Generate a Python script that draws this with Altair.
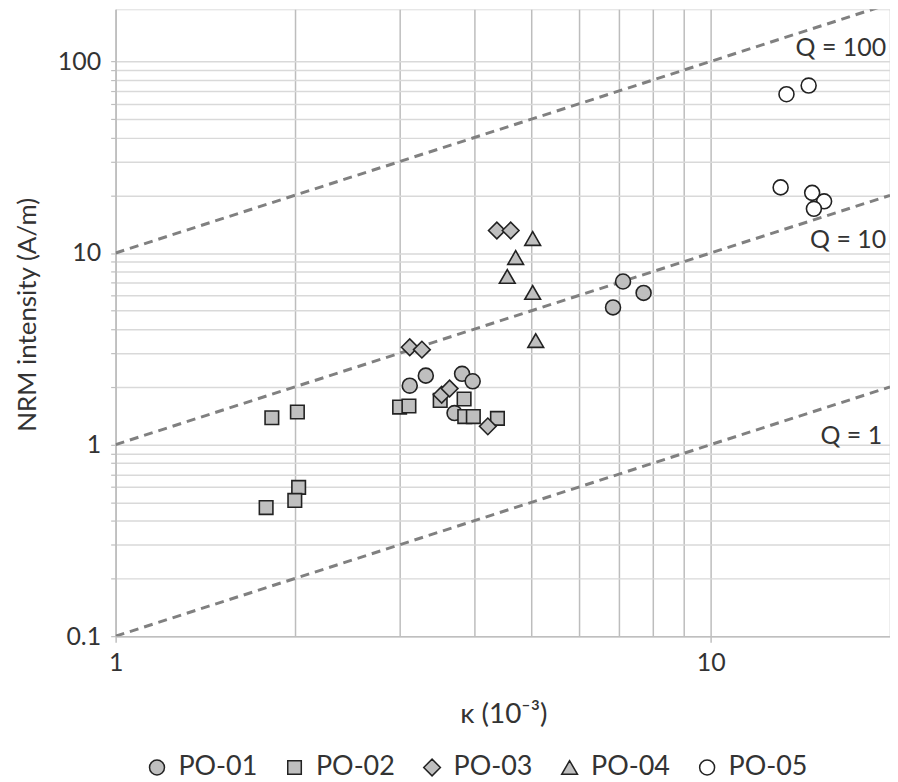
import altair as alt
import pandas as pd

# ---- data ----
series_names = ["PO-01", "PO-02", "PO-03", "PO-04", "PO-05"]

po01_x = [3.12, 3.32, 3.82, 3.98, 3.71, 7.12, 7.71, 6.85]
po01_y = [2.03, 2.29, 2.34, 2.14, 1.46, 7.10, 6.19, 5.20]

po02_x = [1.83, 2.02, 3.00, 3.11, 3.51, 3.85, 3.86, 3.99, 4.38, 2.03, 2.00, 1.79]
po02_y = [1.38, 1.48, 1.57, 1.59, 1.70, 1.73, 1.40, 1.40, 1.37, 0.598, 0.511, 0.469]

po03_x = [3.12, 3.27, 3.53, 3.64, 4.22, 4.37, 4.61]
po03_y = [3.22, 3.13, 1.82, 1.96, 1.245, 13.1, 13.1]

po04_x = [5.02, 4.70, 4.55, 5.02, 5.08]
po04_y = [11.9, 9.47, 7.54, 6.22, 3.49]

po05_x = [13.4, 14.6, 13.1, 14.8, 15.5, 14.9]
po05_y = [67.4, 74.8, 22.0, 20.6, 18.6, 17.0]

q_values = [1, 10, 100]
q_labels = ["Q = 1", "Q = 10", "Q = 100"]
x_range = [1, 20]

x_tick_labels = [1, 10]
y_tick_labels = [0.1, 1, 10, 100]

FONT = "Lato"
TXT = "#333333"
EDGE = "#222222"

# ---- tables ----
xs = [po01_x, po02_x, po03_x, po04_x, po05_x]
ys = [po01_y, po02_y, po03_y, po04_y, po05_y]
rows = []
for name, sx, sy in zip(series_names, xs, ys):
    for a, b in zip(sx, sy):
        rows.append({"series": name, "k": a, "nrm": b})
pts = pd.DataFrame(rows)

qrows = []
for q in q_values:
    for xv in x_range:
        qrows.append({"Q": q, "k": xv, "nrm": q * xv / 10})
qdf = pd.DataFrame(qrows)

lab = pd.DataFrame({
    "text": q_labels,
    "k": [19.4, 19.7, 19.7],
    "nrm": [1.11, 11.66, 117],
})

x_grid_vals = [1, 2, 3, 4, 5, 6, 7, 8, 9, 10, 20]
y_grid_vals = []
for e in [0.1, 1, 10]:
    for m in range(1, 10):
        y_grid_vals.append(round(m * e, 6))
y_grid_vals.append(100)

x_lab_test = " || ".join(f"datum.value == {v}" for v in x_tick_labels)
y_lab_test = " || ".join(f"datum.value == {v}" for v in y_tick_labels)

xscale = alt.Scale(type="log", domain=[1, 20], nice=False)
yscale = alt.Scale(type="log", domain=[0.1, 187], nice=False)

xaxis = alt.Axis(
    values=x_grid_vals, format="~g",
    labelExpr=f"({x_lab_test}) ? datum.label : ''",
    grid=True, gridColor="#bdbdbd", gridWidth=1.5,
    domainColor="#bfbfbf", domainWidth=1.5,
    tickColor={"condition": {"test": x_lab_test, "value": "#bfbfbf"}, "value": "transparent"},
    tickSize=6, tickWidth=1.5,
    labelFont=FONT, labelFontSize=25, labelColor=TXT, labelPadding=8,
    labelFlush=False, labelOverlap=False,
    title="κ (10⁻³)", titleFont=FONT, titleFontSize=28, titleFontWeight="normal",
    titleColor=TXT, titleX=389, titleY=79, titleBaseline="middle",
)
yaxis = alt.Axis(
    values=y_grid_vals, format="~g",
    labelExpr=f"({y_lab_test}) ? datum.label : ''",
    grid=True, gridColor="#d9d9d9", gridWidth=1.5,
    domainColor="#bfbfbf", domainWidth=1.5,
    tickColor="#bfbfbf", tickSize=5, tickWidth=1.2,
    labelFont=FONT, labelFontSize=25, labelColor=TXT, labelPadding=10,
    labelFlush=False, labelOverlap=False,
    title="NRM intensity (A/m)", titleFont=FONT, titleFontSize=26,
    titleFontWeight="normal", titleColor=TXT,
    titleX=-88, titleY=306, titleBaseline="middle", titleAngle=270,
)

qlines = alt.Chart(qdf).mark_line(
    color="#808080", strokeWidth=3, strokeDash=[9, 6], clip=True
).encode(
    x=alt.X("k:Q", scale=xscale, axis=xaxis),
    y=alt.Y("nrm:Q", scale=yscale, axis=yaxis),
    detail="Q:N",
)

qtext = alt.Chart(lab).mark_text(
    font=FONT, fontSize=25, color=TXT, align="right", baseline="middle"
).encode(
    x=alt.X("k:Q", scale=xscale),
    y=alt.Y("nrm:Q", scale=yscale),
    text="text:N",
)

legend = alt.Legend(
    title=None, orient="none", direction="horizontal", columns=5,
    legendX=28, legendY=747,
    labelFont=FONT, labelFontSize=27, labelColor=TXT,
    symbolStrokeWidth=1.5, symbolOpacity=1,
    columnPadding=23, labelOffset=8,
)

points = alt.Chart(pts).mark_point(
    filled=True, strokeWidth=1.6, opacity=1, strokeOpacity=1, clip=True
).encode(
    x=alt.X("k:Q", scale=xscale),
    y=alt.Y("nrm:Q", scale=yscale),
    shape=alt.Shape("series:N", scale=alt.Scale(
        domain=series_names,
        range=["circle", "square", "diamond", "triangle-up", "circle"]),
        legend=legend),
    fill=alt.Fill("series:N", scale=alt.Scale(
        domain=series_names,
        range=["#bfbfbf", "#bfbfbf", "#bfbfbf", "#bfbfbf", "#ffffff"]),
        legend=legend),
    stroke=alt.Stroke("series:N", scale=alt.Scale(
        domain=series_names, range=[EDGE] * 5),
        legend=legend),
    size=alt.Size("series:N", scale=alt.Scale(
        type="ordinal", domain=series_names, range=[225, 185, 280, 250, 225]),
        legend=legend),
)

chart = alt.layer(qlines, points, qtext).properties(
    width=777, height=629,
    autosize=alt.AutoSizeParams(type="none"),
    padding={"left": 108, "top": 0, "right": 0, "bottom": 145},
).configure_view(stroke=None).configure(background="white")

chart.save("out.html", embed_options={"renderer": "svg", "actions": False})
